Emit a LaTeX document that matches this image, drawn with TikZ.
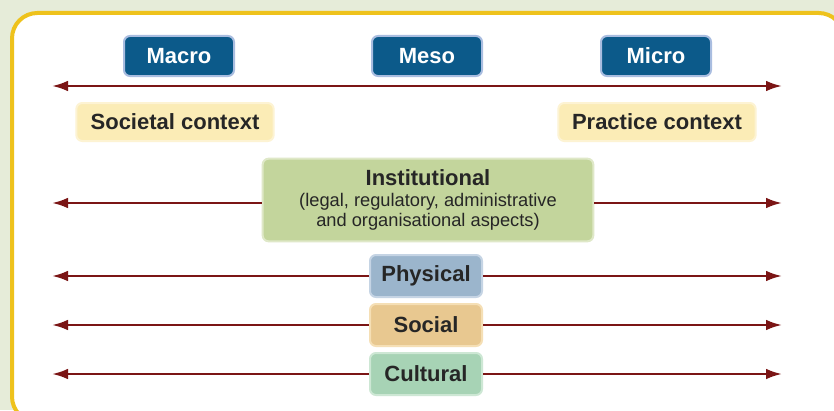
\documentclass[tikz,border=0pt]{standalone}
\usepackage{fontspec}
\setmainfont{Liberation Sans}
\usepackage{xcolor}
\usetikzlibrary{arrows.meta}
\definecolor{bgcol}{HTML}{E6ECD9}
\definecolor{framecol}{HTML}{EEC21C}
\definecolor{arrowcol}{HTML}{7B1515}
\definecolor{levelfill}{HTML}{0C5A8A}
\definecolor{leveldraw}{HTML}{A9BDE0}
\definecolor{ctxfill}{HTML}{FBECB6}
\definecolor{ctxdraw}{HTML}{FDF3D3}
\definecolor{instfill}{HTML}{C3D59C}
\definecolor{instdraw}{HTML}{DFE8C8}
\definecolor{physfill}{HTML}{9BB5CC}
\definecolor{physdraw}{HTML}{C5D4E4}
\definecolor{socfill}{HTML}{E8C890}
\definecolor{socdraw}{HTML}{F5DFB5}
\definecolor{culfill}{HTML}{A7D3B5}
\definecolor{culdraw}{HTML}{CDE7D4}

\begin{document}
\begin{tikzpicture}[x=0.75pt,y=-0.75pt,>={Latex[length=12pt,width=8pt]},
    font=\bfseries\fontsize{16.5}{20}\selectfont,
    box/.style={rounded corners=4.5pt,line width=1.5pt,align=center,inner sep=0pt},
    level node/.style={box,draw=leveldraw,fill=levelfill,text=white,
      minimum width=82.5pt,minimum height=30pt},
    context node/.style={box,draw=ctxdraw,fill=ctxfill,text=black!85,
      minimum width=148pt,minimum height=28.5pt},
    aspect node/.style={box,text=black!85,minimum width=84pt,minimum height=31.5pt},
    line/.style={draw=arrowcol,line width=1.8pt,->}]
    \useasboundingbox (0,0) rectangle (834,410);
    \fill[bgcol] (0,0) rectangle (834,410);
    \draw[framecol,line width=3pt,fill=white,rounded corners=19pt] (12,13) rectangle (844,422);

    % levels
    \node[level node] (macro) at (179,56) {Macro};
    \node[level node] (meso) at (427,56) {Meso};
    \node[level node] (micro) at (656,56) {Micro};
    \node[context node] (societal) at (175,122) {Societal context};
    \node[context node] (practice) at (657,122) {Practice context};

    % aspects
    \node[box,draw=instdraw,fill=instfill,text=black!85,minimum width=248pt,
      minimum height=62pt,font=\fontsize{13.7}{15}\selectfont] (inst) at (428,200)
      {\bfseries\fontsize{16.5}{15}\selectfont Institutional\\[1pt]
       (legal, regulatory, administrative\\
       and organisational aspects)};
    \node[aspect node,draw=physdraw,fill=physfill] (physical) at (426,276) {Physical};
    \node[aspect node,draw=socdraw,fill=socfill] (social) at (426,325) {Social};
    \node[aspect node,draw=culdraw,fill=culfill] (cultural) at (426,374) {Cultural};

    \coordinate (top_l) at (52,86);
    \coordinate (top_r) at (782,86);
    \coordinate (inst_w) at (inst.west |- 0,203);
    \coordinate (inst_e) at (inst.east |- 0,203);
    \coordinate (inst_l) at (52,203);
    \coordinate (inst_r) at (782,203);
    \coordinate (phys_l) at (52,276);
    \coordinate (phys_r) at (782,276);
    \coordinate (soc_l) at (52,325);
    \coordinate (soc_r) at (782,325);
    \coordinate (cul_l) at (52,374);
    \coordinate (cul_r) at (782,374);

    \path
    (top_l) edge [line,<->] (top_r)
    (inst_w) edge [line] (inst_l)
    (inst_e) edge [line] (inst_r)
    (physical) edge [line] (phys_l)
    (physical) edge [line] (phys_r)
    (social) edge [line] (soc_l)
    (social) edge [line] (soc_r)
    (cultural) edge [line] (cul_l)
    (cultural) edge [line] (cul_r)
    ;
\end{tikzpicture}
\end{document}
